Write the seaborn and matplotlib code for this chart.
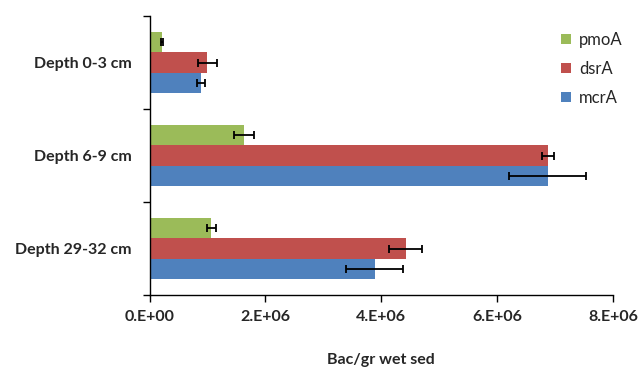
import matplotlib
matplotlib.use('Agg')
import matplotlib.pyplot as plt
import seaborn as sns
import pandas as pd
import numpy as np

depths = ['Depth 0-3 cm', 'Depth 6-9 cm', 'Depth 29-32 cm']
genes = ['pmoA', 'dsrA', 'mcrA']
pmoA = [0.22e6, 1.63e6, 1.07e6]
pmoA_err = [0.02e6, 0.17e6, 0.08e6]
dsrA = [1.00e6, 6.88e6, 4.42e6]
dsrA_err = [0.17e6, 0.10e6, 0.29e6]
mcrA = [0.89e6, 6.87e6, 3.89e6]
mcrA_err = [0.07e6, 0.66e6, 0.49e6]
xticks = [0, 2e6, 4e6, 6e6, 8e6]
xticklabels = ['0.E+00', '2.E+06', '4.E+06', '6.E+06', '8.E+06']
colors = ['#9BBB59', '#C0504D', '#4F81BD']

values = {'pmoA': pmoA, 'dsrA': dsrA, 'mcrA': mcrA}
errors = {'pmoA': pmoA_err, 'dsrA': dsrA_err, 'mcrA': mcrA_err}
rows = []
for g in genes:
    for d, v in zip(depths, values[g]):
        rows.append({'depth': d, 'gene': g, 'value': v})
df = pd.DataFrame(rows)

sns.set_style('white')
plt.rcParams['font.family'] = ['Lato', 'DejaVu Sans']

fig = plt.figure(figsize=(6.4, 3.68), dpi=100)
ax = fig.add_axes([149.5/640, 1-295/368, (613-149.5)/640, (295-16)/368])

sns.barplot(data=df, y='depth', x='value', hue='gene', order=depths,
            hue_order=genes, palette=colors, orient='h', width=0.66,
            errorbar=None, ax=ax, saturation=1, edgecolor='none')

for cont, g in zip(ax.containers, genes):
    for bar, e in zip(cont, errors[g]):
        yc = bar.get_y() + bar.get_height()/2
        ax.errorbar(bar.get_width(), yc, xerr=e, fmt='none', ecolor='black',
                    elinewidth=1.3, capsize=2.6, capthick=1.3, zorder=5)

ax.set_xlim(0, 8e6)
ax.set_ylim(2.5, -0.5)
ax.set_xticks(xticks)
ax.set_xticklabels(xticklabels, fontsize=11.5, fontweight='bold')
ax.set_yticks(range(len(depths)))
ax.set_yticklabels(depths, fontsize=11.5, fontweight='bold')
ax.set_yticks([-0.5, 0.5, 1.5, 2.5], minor=True)
ax.tick_params(axis='y', which='major', length=0, pad=13)
ax.tick_params(axis='y', which='minor', length=5, width=1, color='black', left=True)
ax.tick_params(axis='x', which='major', length=5, width=1, color='black', bottom=True, pad=6)
ax.set_ylabel('')
ax.set_xlabel('Bac/gr wet sed', fontsize=11.5, fontweight='bold', labelpad=21)
for s in ['top', 'right']:
    ax.spines[s].set_visible(False)
for s in ['left', 'bottom']:
    ax.spines[s].set_color('black')
    ax.spines[s].set_linewidth(1)

handles, labels = ax.get_legend_handles_labels()
ax.legend(handles, labels, loc='upper left', bbox_to_anchor=(546/640, 1-17/368),
          bbox_transform=fig.transFigure, frameon=False, fontsize=12,
          handlelength=0.6, handleheight=0.6, handletextpad=0.5, labelspacing=0.78)

fig.savefig('out.png', dpi=100)
